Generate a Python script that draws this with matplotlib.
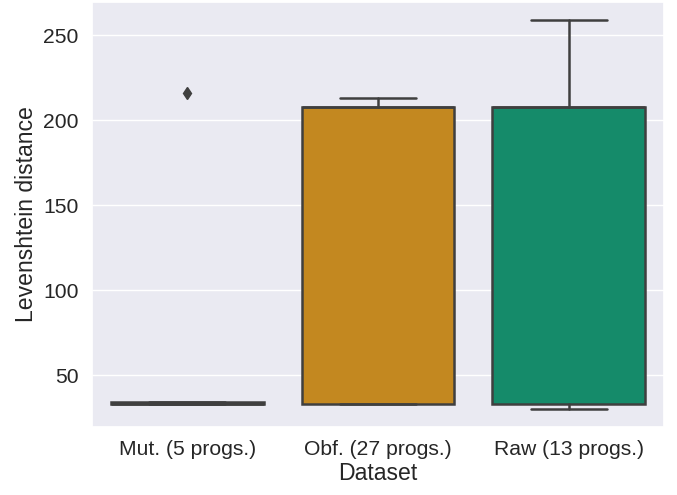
import matplotlib
matplotlib.use("Agg")
import matplotlib.pyplot as plt
import seaborn as sns

# dataset labels and per-program Levenshtein distances
labels = ["Mut. (5 progs.)", "Obf. (27 progs.)", "Raw (13 progs.)"]
mut = [33, 33, 33, 34, 216]
obf = [33] * 12 + [34] + [208] * 12 + [210, 213]
raw = [30, 33, 33, 33, 33, 33, 208, 208, 208, 208, 208, 208, 259]
data = [mut, obf, raw]

sns.set_theme(style="darkgrid")
plt.rcParams["font.family"] = ["Liberation Sans", "DejaVu Sans"]

pal = [sns.desaturate(c, 0.75) for c in sns.color_palette("colorblind", 3)]
gray = "#3f3f3f"
lw = 1.8

fig, ax = plt.subplots(figsize=(6.77, 4.95), dpi=100)
fig.subplots_adjust(left=92 / 677, right=664 / 677, top=1 - 2 / 495, bottom=1 - 427 / 495)

bp = ax.boxplot(data, positions=range(len(data)), widths=0.8, patch_artist=True,
                medianprops=dict(color=gray, linewidth=lw),
                whiskerprops=dict(color=gray, linewidth=lw),
                capprops=dict(color=gray, linewidth=lw),
                boxprops=dict(edgecolor=gray, linewidth=lw),
                flierprops=dict(marker="d", markerfacecolor=gray, markeredgecolor=gray, markersize=6))
for patch, c in zip(bp["boxes"], pal):
    patch.set_facecolor(c)
    patch.set_zorder(2)

ax.set_xticks(range(len(labels)))
ax.set_xticklabels(labels, fontsize=15.2)
ax.tick_params(axis="y", labelsize=15.2)
ax.set_xlim(-0.5, 2.5)
ax.set_ylim(19.5, 269.5)
ax.set_yticks([50, 100, 150, 200, 250])
ax.set_xlabel("Dataset", fontsize=16.6, labelpad=2)
ax.set_ylabel("Levenshtein distance", fontsize=16.6)
ax.grid(axis="x", visible=False)

fig.savefig("out.png", dpi=100)
